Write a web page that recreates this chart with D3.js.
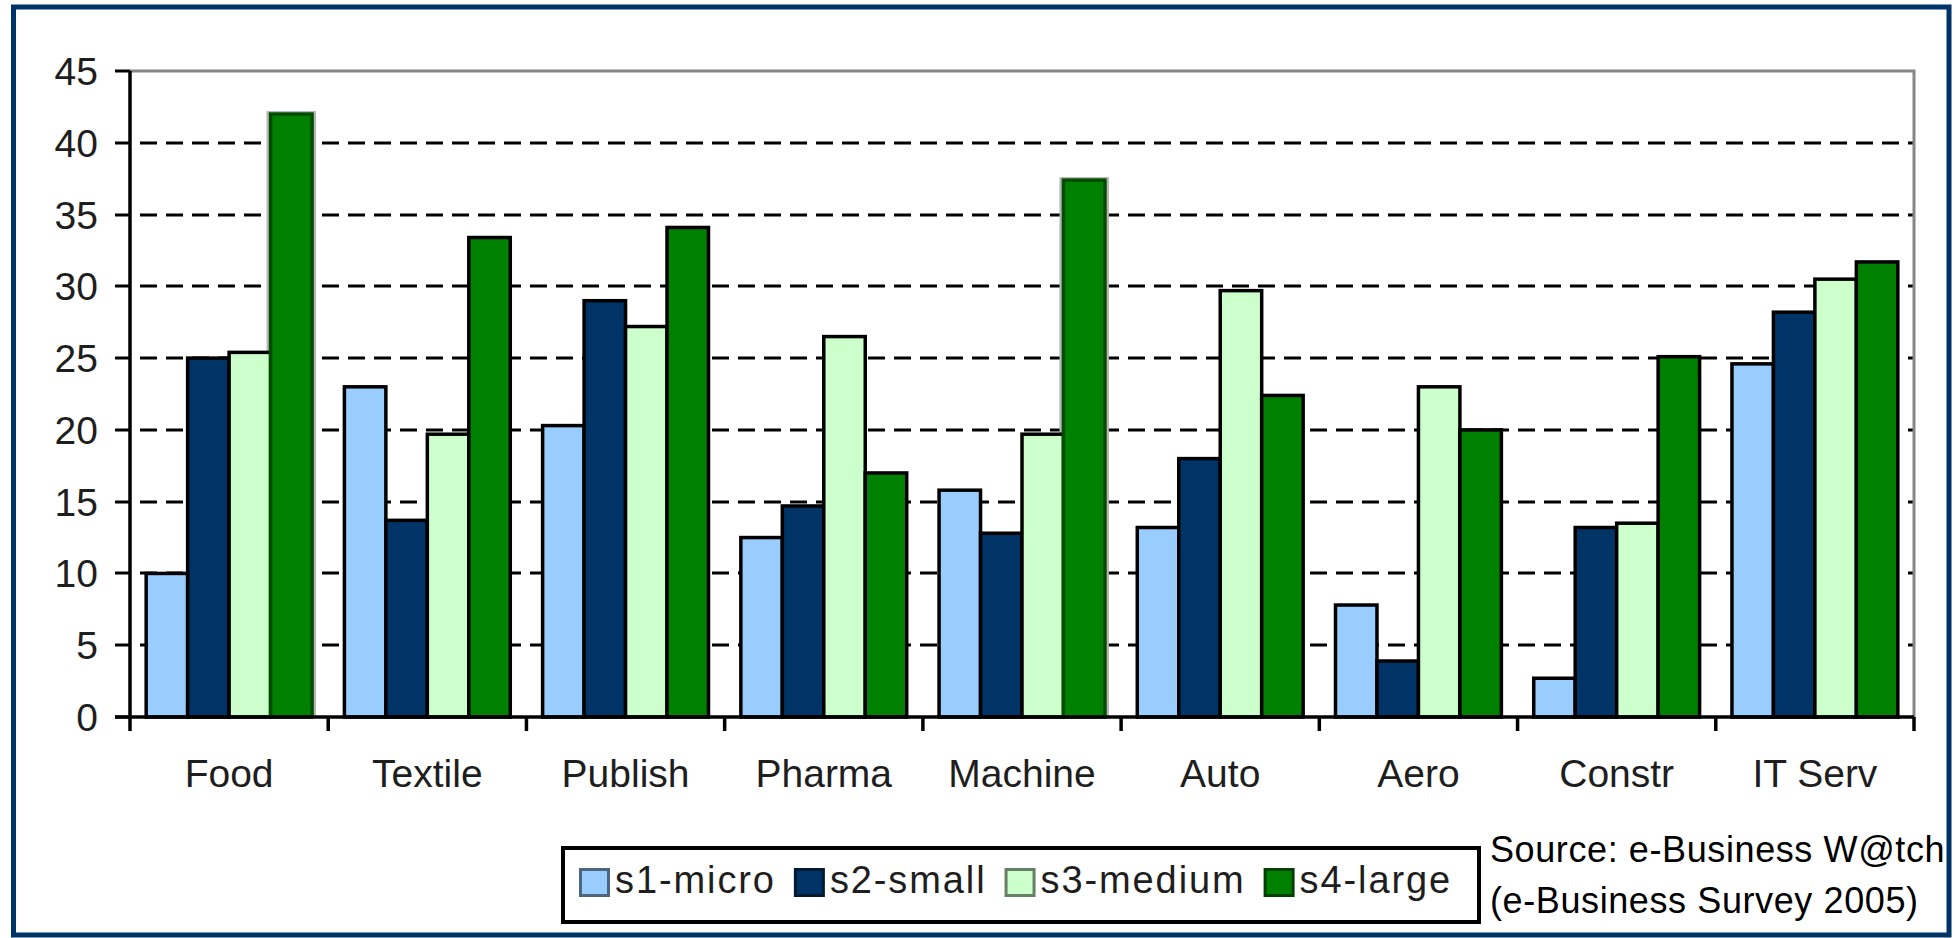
<!DOCTYPE html>
<html>
<head>
<meta charset="utf-8">
<script src="https://cdn.jsdelivr.net/npm/d3@7"></script>
<style>
  html, body { margin: 0; padding: 0; background: #fff; }
  svg { display: block; }
  text { font-family: "Liberation Sans", Arial, sans-serif; }
</style>
</head>
<body>
<script>
const categories = ["Food", "Textile", "Publish", "Pharma", "Machine", "Auto", "Aero", "Constr", "IT Serv"];
const seriesNames = ["s1-micro", "s2-small", "s3-medium", "s4-large"];
const s1Micro  = [10.0, 23.0, 20.3, 12.5, 15.8, 13.2, 7.8, 2.7, 24.6];
const s2Small  = [25.0, 13.7, 29.0, 14.7, 12.8, 18.0, 3.9, 13.2, 28.2];
const s3Medium = [25.4, 19.7, 27.2, 26.5, 19.7, 29.7, 23.0, 13.5, 30.5];
const s4Large  = [42.0, 33.4, 34.1, 17.0, 37.4, 22.4, 20.0, 25.1, 31.7];
const yTickValues = [0, 5, 10, 15, 20, 25, 30, 35, 40, 45];
const seriesColors = ["#99CCFF", "#003366", "#CCFFCC", "#008000"];
const highlightedLarge = ["Food", "Machine"];
const sourceLines = ["Source: e-Business W@tch", "(e-Business Survey 2005)"];

const seriesValues = [s1Micro, s2Small, s3Medium, s4Large];
const rows = categories.map((c, i) => ({
  cat: c,
  vals: seriesNames.map((s, j) => ({ series: s, j, value: seriesValues[j][i], cat: c }))
}));

const W = 1955, H = 938;
const plot = { left: 130, right: 1914, top: 71, bottom: 717 };

const svg = d3.select("body").append("svg").attr("width", W).attr("height", H);

// outer border
svg.append("rect").attr("x", 13.5).attr("y", 7).attr("width", 1949 - 13.5).attr("height", 935 - 7)
  .attr("fill", "#fff").attr("stroke", "#003366").attr("stroke-width", 5);

const x0 = d3.scaleBand().domain(categories).range([plot.left, plot.right]).paddingInner(0).paddingOuter(0);
const x1 = d3.scaleBand().domain(seriesNames).range([0, x0.bandwidth()]).paddingInner(0).paddingOuter(0.39);
const y = d3.scaleLinear().domain([0, 45]).range([plot.bottom, plot.top]);

// gridlines (dashed)
const grid = svg.append("g");
grid.selectAll("line.grid").data(yTickValues.filter(v => v > 0 && v < 45)).join("line")
  .attr("class", "grid")
  .attr("x1", plot.left + 2).attr("x2", plot.right)
  .attr("y1", d => Math.round(y(d))).attr("y2", d => Math.round(y(d)))
  .attr("stroke", "#000").attr("stroke-width", 3)
  .attr("stroke-dasharray", "17,9").attr("stroke-dashoffset", -8);

// top and right frame (gray)
svg.append("path")
  .attr("d", `M${plot.left},${y(45)}H${plot.right}V${plot.bottom}`)
  .attr("fill", "none").attr("stroke", "#868686").attr("stroke-width", 3);

// bars
const groups = svg.append("g").selectAll("g").data(rows).join("g")
  .attr("transform", d => `translate(${x0(d.cat)},0)`);

groups.selectAll("rect.halo").data(d => d.vals.filter(v => v.j === 3 && highlightedLarge.includes(v.cat))).join("rect")
  .attr("class", "halo")
  .attr("x", d => x1(d.series) - 4).attr("width", x1.bandwidth() + 8)
  .attr("y", d => y(d.value) - 3).attr("height", d => y(0) - y(d.value) + 3)
  .attr("fill", "#b4b4b4");

groups.selectAll("rect.bar").data(d => d.vals).join("rect")
  .attr("class", "bar")
  .attr("x", d => x1(d.series)).attr("width", x1.bandwidth())
  .attr("y", d => y(d.value)).attr("height", d => y(0) - y(d.value))
  .attr("fill", d => seriesColors[d.j])
  .attr("stroke", d => (d.j === 3 && highlightedLarge.includes(d.cat)) ? "#004d00" : "#000")
  .attr("stroke-width", 3.5);

// y axis
const yAxis = svg.append("g");
yAxis.append("line").attr("x1", plot.left).attr("x2", plot.left)
  .attr("y1", y(45)).attr("y2", plot.bottom + 14).attr("stroke", "#000").attr("stroke-width", 3.5);
yAxis.selectAll("line.tick").data(yTickValues).join("line").attr("class", "tick")
  .attr("x1", plot.left - 15).attr("x2", plot.left)
  .attr("y1", d => Math.round(y(d))).attr("y2", d => Math.round(y(d)))
  .attr("stroke", "#000").attr("stroke-width", 3);
yAxis.selectAll("text").data(yTickValues).join("text")
  .attr("x", 98).attr("y", d => y(d)).attr("dy", "0.36em")
  .attr("text-anchor", "end").attr("font-size", 39).attr("fill", "#1e1e1e")
  .text(d => d);

// x axis
const xAxis = svg.append("g");
xAxis.append("line").attr("x1", plot.left - 15).attr("x2", plot.right)
  .attr("y1", plot.bottom).attr("y2", plot.bottom).attr("stroke", "#000").attr("stroke-width", 3.5);
const boundaries = categories.map(c => x0(c) + x0.bandwidth());
xAxis.selectAll("line.tick").data(boundaries).join("line").attr("class", "tick")
  .attr("x1", d => d).attr("x2", d => d)
  .attr("y1", plot.bottom).attr("y2", plot.bottom + 14)
  .attr("stroke", "#000").attr("stroke-width", 3.5);
xAxis.selectAll("text").data(categories).join("text")
  .attr("x", d => x0(d) + x0.bandwidth() / 2).attr("y", 787)
  .attr("text-anchor", "middle").attr("font-size", 39).attr("fill", "#1e1e1e")
  .text(d => d);

// legend
const legend = svg.append("g");
legend.append("rect").attr("x", 563).attr("y", 848).attr("width", 1479 - 563).attr("height", 922 - 848)
  .attr("fill", "#fff").attr("stroke", "#000").attr("stroke-width", 4);
let lx = 579;
seriesNames.forEach((s, j) => {
  legend.append("rect").attr("x", lx + 1.5).attr("y", 869.5).attr("width", 28).attr("height", 26)
    .attr("fill", seriesColors[j]).attr("stroke", d3.interpolateRgb(seriesColors[j], "#000")(0.5))
    .attr("stroke-width", 3);
  const t = legend.append("text").attr("x", lx + 36).attr("y", 893)
    .attr("font-size", 38).attr("fill", "#1e1e1e").attr("letter-spacing", 1.9).text(s);
  lx = lx + 36 + t.node().getComputedTextLength() + 18;
});

// source note
svg.append("g").selectAll("text").data(sourceLines).join("text")
  .attr("x", 1490).attr("y", (d, i) => 862 + i * 51)
  .attr("font-size", 36).attr("fill", "#000").attr("letter-spacing", 0.6)
  .text(d => d);
</script>
</body>
</html>
